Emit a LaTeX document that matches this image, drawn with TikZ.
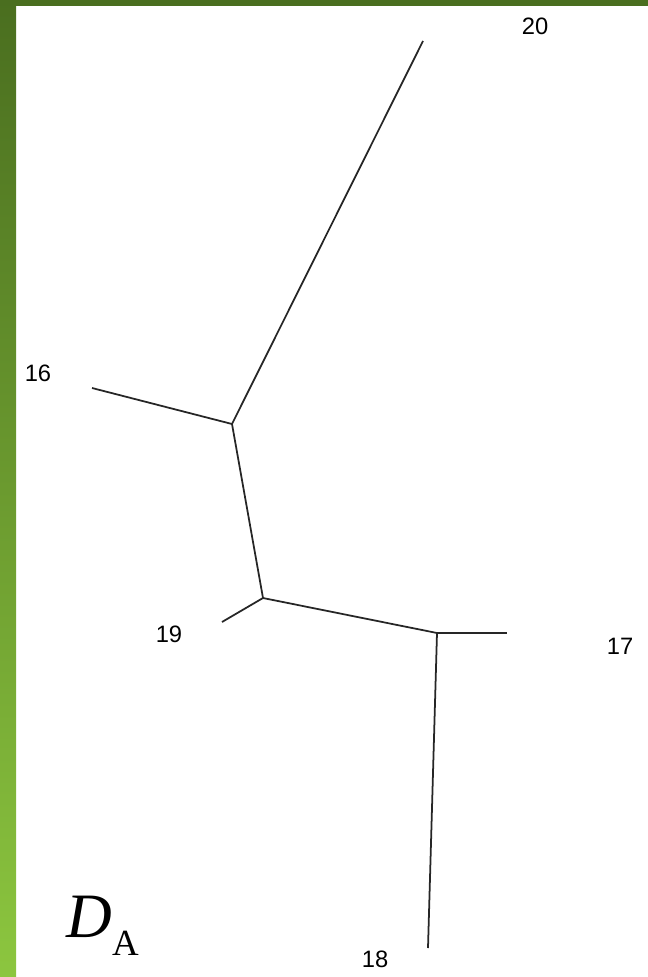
\documentclass[tikz,border=0pt]{standalone}
\usepackage{fontspec}
\setmainfont{Liberation Serif}
\newfontfamily\lblfont{Liberation Sans}
\usepackage{tikz}
\definecolor{bardark}{HTML}{4A6E1F}
\definecolor{barlight}{HTML}{8CC63F}
\tikzstyle{br} = [draw, line width=1pt, black!85]
\tikzstyle{lbl} = [inner sep=0pt, font=\lblfont\fontsize{13.5}{14}\selectfont]
\begin{document}
\begin{tikzpicture}[x=0.02cm,y=-0.02cm]
        \useasboundingbox (0,0) rectangle (648,977);
        \shade[top color=bardark, bottom color=barlight] (0,0) rectangle (16,977);
        \fill[bardark] (0,0) rectangle (648,6);
        \coordinate (a) at (232,424);
        \coordinate (b) at (263,598);
        \coordinate (c) at (437,633);
        \coordinate (l16) at (92,388);
        \coordinate (l17) at (507,633);
        \coordinate (l18) at (428,948);
        \coordinate (l19) at (222,622);
        \coordinate (l20) at (423,41);
        \node[lbl] (t16) at (38,373) {16};
        \node[lbl] (t17) at (620,646) {17};
        \node[lbl] (t18) at (375,959) {18};
        \node[lbl] (t19) at (169,634) {19};
        \node[lbl] (t20) at (535,26) {20};
        \draw[br] (l20) -- (a);
        \draw[br] (l16) -- (a);
        \draw[br] (a) -- (b);
        \draw[br] (l19) -- (b);
        \draw[br] (b) -- (c);
        \draw[br] (c) -- (l17);
        \draw[br] (c) -- (l18);
        \node[anchor=base west, inner sep=0pt, font=\fontsize{36}{40}\selectfont] (da) at (66,937) {\textit{D}\raisebox{-0.3em}{\fontsize{21}{21}\selectfont A}};
      \end{tikzpicture}
\end{document}
